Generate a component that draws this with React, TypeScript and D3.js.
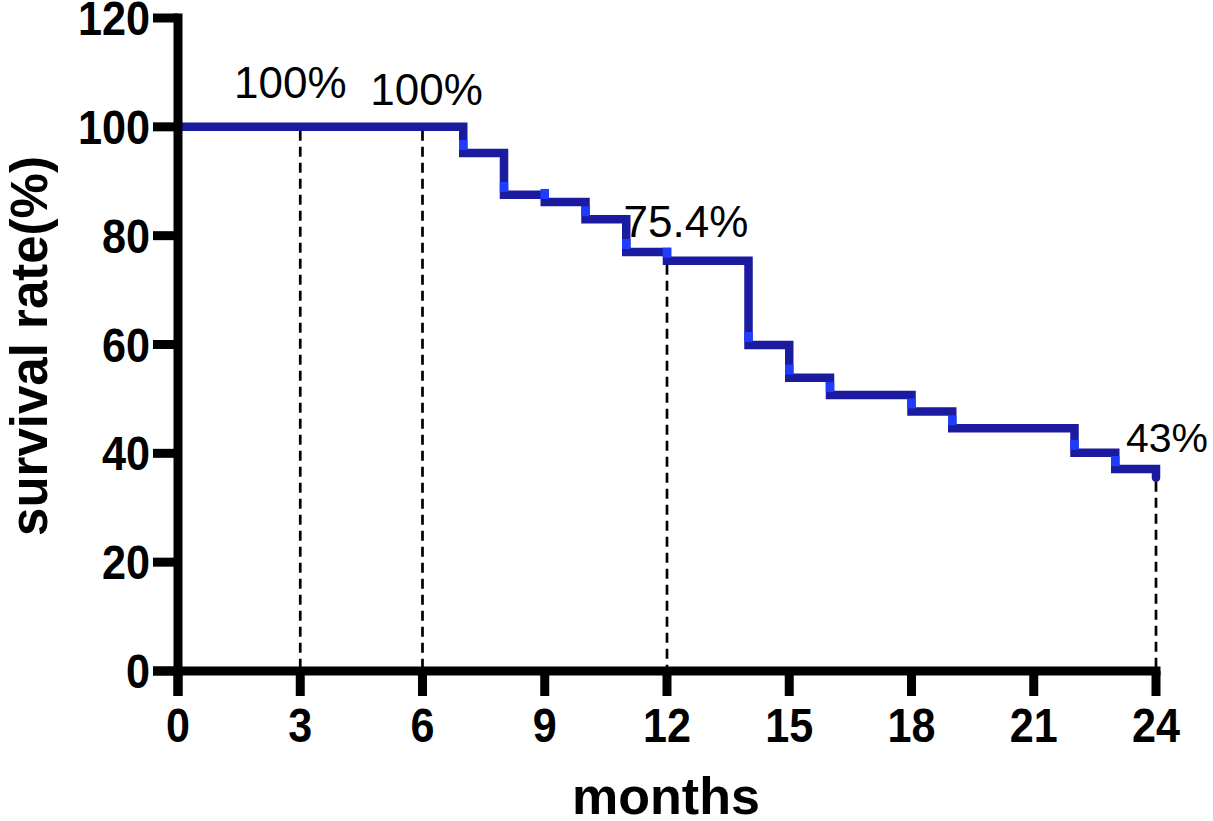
import React from "react";
import * as d3 from "d3";

// ---- data ----
const months = [0, 7, 8, 9, 10, 11, 12, 14, 15, 16, 18, 19, 22, 23, 24];
const survival = [100, 95.2, 87.5, 86.2, 83.0, 77.0, 75.4, 59.9, 53.9, 50.7, 47.7, 44.6, 40.1, 37.1, 35.5];
const xTicks = [0, 3, 6, 9, 12, 15, 18, 21, 24];
const yTicks = [0, 20, 40, 60, 80, 100, 120];
const markMonths = [3, 6, 12, 24];
const markValues = [100, 100, 75.4, 35.5];
const markLabels = ["100%", "100%", "75.4%", "43%"];
const xTitle = "months";
const yTitle = "survival rate(%)";

// ---- styles ----
const W = 1213;
const H = 821;
const FONT = "'Liberation Sans', Arial, Helvetica, sans-serif";
const labelOffsets = [
  { dx: -10, dy: -29, size: 44 },
  { dx: 4, dy: -22, size: 44 },
  { dx: 19, dy: -24, size: 44 },
  { dx: 11, dy: -26, size: 41 },
];
const DARK = "#1b1ba0";
const BRIGHT = "#1f3cff";

export default function App() {
  const x = d3.scaleLinear().domain([0, 24]).range([178, 1156]);
  const y = d3.scaleLinear().domain([0, 120]).range([671, 18]);

  const pts: [number, number][] = months.map((m, i) => [x(m), y(survival[i])]);
  const line = d3.line().curve(d3.curveStepAfter)(pts) || "";

  const axisW = 9;
  const tickLen = 25;

  return (
    <div style={{ position: "absolute", left: 0, top: 0, width: W, height: H, background: "#fff" }}>
      <svg width={W} height={H} style={{ display: "block" }}>
        <rect width={W} height={H} fill="#fff" />
        {/* dashed reference lines */}
        {markMonths.map((m, i) => (
          <line
            key={"d" + i}
            x1={x(m)}
            x2={x(m)}
            y1={y(markValues[i]) + 4}
            y2={y(0)}
            stroke="#000"
            strokeWidth={2.7}
            strokeDasharray="10,6"
          />
        ))}

        {/* survival curve */}
        <path d={line} fill="none" stroke={DARK} strokeWidth={8.5} strokeLinejoin="miter" strokeLinecap="round" />
        {months.slice(1, months.length - 1).map((m, i) => (
          <line
            key={"b" + i}
            x1={x(m)}
            x2={x(m)}
            y1={y(survival[i + 1]) - 13}
            y2={y(survival[i + 1]) - 3}
            stroke={BRIGHT}
            strokeWidth={8.5}
          />
        ))}

        {/* axes */}
        <line x1={x(0)} x2={x(0)} y1={y(120) - axisW / 2} y2={y(0) + tickLen} stroke="#000" strokeWidth={axisW} />
        <line x1={x(0) - tickLen} x2={x(24) + axisW / 2} y1={y(0)} y2={y(0)} stroke="#000" strokeWidth={axisW} />
        {yTicks.map((t) => (
          <g key={"y" + t}>
            <line x1={x(0) - tickLen} x2={x(0)} y1={y(t)} y2={y(t)} stroke="#000" strokeWidth={axisW} />
            <text
              transform={`translate(${x(0) - 28},${y(t) + 17}) scale(0.9,1)`}
              textAnchor="end"
              fontFamily={FONT}
              fontWeight="bold"
              fontSize={48}
              fill="#000"
            >
              {t}
            </text>
          </g>
        ))}
        {xTicks.map((t) => (
          <g key={"x" + t}>
            <line x1={x(t)} x2={x(t)} y1={y(0)} y2={y(0) + tickLen} stroke="#000" strokeWidth={axisW} />
            <text
              transform={`translate(${x(t)},742) scale(0.88,1)`}
              textAnchor="middle"
              fontFamily={FONT}
              fontWeight="bold"
              fontSize={49}
              fill="#000"
            >
              {t}
            </text>
          </g>
        ))}

        {/* annotations */}
        {markMonths.map((m, i) => (
          <text
            key={"l" + i}
            x={x(m) + labelOffsets[i].dx}
            y={y(markValues[i]) + labelOffsets[i].dy}
            textAnchor="middle"
            fontFamily={FONT}
            fontSize={labelOffsets[i].size}
            fill="#000"
          >
            {markLabels[i]}
          </text>
        ))}

        {/* titles */}
        <text x={666} y={814} textAnchor="middle" fontFamily={FONT} fontWeight="bold" fontSize={52} fill="#000">
          {xTitle}
        </text>
        <text
          transform={`translate(47,346) rotate(-90)`}
          textAnchor="middle"
          fontFamily={FONT}
          fontWeight="bold"
          fontSize={51}
          fill="#000"
        >
          {yTitle}
        </text>
      </svg>
    </div>
  );
}
